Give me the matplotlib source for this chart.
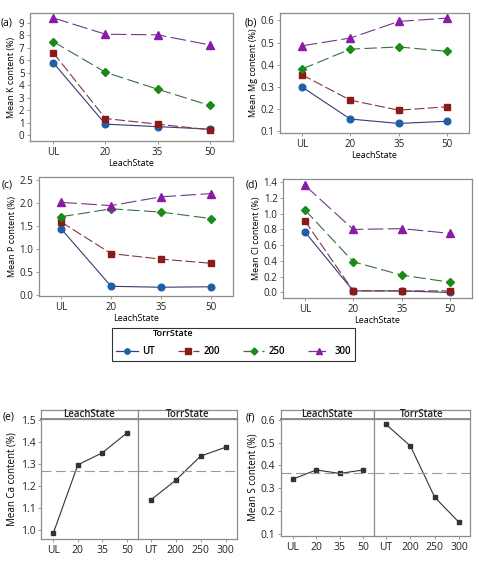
"""Main-effects / interaction plots: nutrient content vs LeachState and TorrState."""

import matplotlib

matplotlib.use("Agg")
import matplotlib.pyplot as plt
from matplotlib.lines import Line2D
import numpy as np

plt.rcParams["font.family"] = ["Open Sans", "DejaVu Sans"]

leach = ["UL", "20", "35", "50"]
torr = ["UT", "200", "250", "300"]

# interaction means, rows = TorrState, columns = LeachState
k_ut = [5.8, 0.9, 0.7, 0.5]
k_200 = [6.6, 1.35, 0.9, 0.45]
k_250 = [7.5, 5.05, 3.7, 2.4]
k_300 = [9.4, 8.1, 8.05, 7.25]

mg_ut = [0.30, 0.155, 0.135, 0.145]
mg_200 = [0.355, 0.24, 0.195, 0.21]
mg_250 = [0.38, 0.47, 0.48, 0.46]
mg_300 = [0.485, 0.52, 0.595, 0.61]

p_ut = [1.43, 0.19, 0.17, 0.18]
p_200 = [1.58, 0.90, 0.78, 0.69]
p_250 = [1.70, 1.87, 1.80, 1.66]
p_300 = [2.01, 1.94, 2.13, 2.20]

cl_ut = [0.77, 0.02, 0.02, 0.0]
cl_200 = [0.91, 0.02, 0.02, 0.02]
cl_250 = [1.05, 0.39, 0.22, 0.13]
cl_300 = [1.36, 0.80, 0.81, 0.75]

# main effects
ca_leach = [0.985, 1.295, 1.35, 1.44]
ca_torr = [1.135, 1.225, 1.335, 1.375]
s_leach = [0.34, 0.38, 0.365, 0.38]
s_torr = [0.58, 0.485, 0.26, 0.15]

W, H = 479, 566
FRAME = "#8c8c8c"

styles = [
    dict(color="#3a3a78", mfc="#1f5fa8", mec="#1f5fa8", marker="o", ms=4.8, ls="-"),
    dict(color="#7a3848", mfc="#8b1a1a", mec="#8b1a1a", marker="s", ms=4.6, ls=(0, (9, 3))),
    dict(color="#3a6e3a", mfc="#1a8a1a", mec="#1a8a1a", marker="D", ms=4.4, ls=(0, (11, 4))),
    dict(color="#6e3a84", mfc="#8b1aa8", mec="#8b1aa8", marker="^", ms=6.2, ls=(0, (14, 4))),
]


def box(l, t, r, b):
    return [l / W, 1 - b / H, (r - l) / W, (b - t) / H]


def style_frame(ax, size=7):
    for s in ax.spines.values():
        s.set_color(FRAME)
        s.set_linewidth(0.9)
    ax.tick_params(colors=FRAME, labelcolor="#222222", labelsize=size, length=2.5, width=0.6, pad=1.5)


def interaction(rect, series, ylabel, ylim, yticks, fmt, tag, tagpos):
    ax = fig.add_axes(box(*rect))
    x = np.arange(len(leach))
    for ys, st in zip(series, styles):
        ax.plot(x, ys, lw=0.8, **st)
    ax.set_xlim(-0.45, 3.45)
    ax.set_ylim(*ylim)
    ax.set_yticks(yticks)
    ax.set_yticklabels([fmt.format(v) for v in yticks])
    ax.set_xticks(x)
    ax.set_xticklabels(leach)
    ax.set_xlabel("LeachState", fontsize=6.5, labelpad=1)
    ax.set_ylabel(ylabel, fontsize=6.5, labelpad=2)
    style_frame(ax)
    fig.text(tagpos[0] / W, 1 - tagpos[1] / H, tag, fontsize=7.5, va="center")
    return ax


def main_effects(rect, divider, left_vals, right_vals, ylabel, ylim, yticks, tag, tagpos):
    l, t, r, b = rect
    strip_h = 9
    grand = np.mean(left_vals + right_vals)
    for (x0, x1), vals, cats, name in [((l, divider), left_vals, leach, "LeachState"),
                                       ((divider, r), right_vals, torr, "TorrState")]:
        ax = fig.add_axes(box(x0, t + strip_h, x1, b))
        xs = np.arange(len(cats))
        ax.plot(xs, vals, color="#333333", lw=0.8, marker="s", ms=2.4)
        ax.axhline(grand, color="#9a9a9a", lw=0.8, ls=(0, (9, 4)))
        ax.set_xlim(-0.5, 3.45)
        ax.set_ylim(*ylim)
        ax.set_xticks(xs)
        ax.set_xticklabels(cats)
        ax.set_yticks(yticks)
        style_frame(ax, size=7.5)
        if name == "LeachState":
            ax.set_yticklabels([f"{v:.1f}" for v in yticks])
            ax.set_ylabel(ylabel, fontsize=7, labelpad=2)
            ax.spines["right"].set_visible(False)
        else:
            ax.tick_params(axis="y", left=False, labelleft=False)
        sx = fig.add_axes(box(x0, t, x1, t + strip_h))
        sx.set_xticks([])
        sx.set_yticks([])
        for s in sx.spines.values():
            s.set_color(FRAME)
            s.set_linewidth(0.9)
        sx.spines["bottom"].set_linewidth(1.4)
        sx.text(0.5, 0.45, name, ha="center", va="center", fontsize=7, fontweight="semibold",
                color="#222222")
    fig.text(tagpos[0] / W, 1 - tagpos[1] / H, tag, fontsize=7.5, va="center")


fig = plt.figure(figsize=(W / 100, H / 100), dpi=100)

interaction((30, 13, 233, 141), [k_ut, k_200, k_250, k_300], "Mean K content (%)",
            (-0.45, 9.8), list(range(10)), "{:.0f}", "(a)", (1, 23))
interaction((280, 13, 469, 133), [mg_ut, mg_200, mg_250, mg_300], "Mean Mg content (%)",
            (0.092, 0.633), [0.1, 0.2, 0.3, 0.4, 0.5, 0.6], "{:.1f}", "(b)", (245, 23))
interaction((39, 177, 233, 296), [p_ut, p_200, p_250, p_300], "Mean P content (%)",
            (-0.02, 2.56), [0.0, 0.5, 1.0, 1.5, 2.0, 2.5], "{:.1f}", "(c)", (2, 185))
interaction((283, 179, 472, 298), [cl_ut, cl_200, cl_250, cl_300], "Mean Cl content (%)",
            (-0.07, 1.44), [0.0, 0.2, 0.4, 0.6, 0.8, 1.0, 1.2, 1.4], "{:.1f}", "(d)", (246, 185))

handles = [Line2D([], [], lw=0.9, **{**st, "ms": st["ms"] * 0.8}) for st in styles]
leg = fig.legend(handles, torr, title=" ", ncol=4, loc="center",
                 bbox_to_anchor=(233.5 / W, 1 - 344.5 / H), frameon=True, fancybox=False,
                 edgecolor="black", title_fontsize=6.5, handlelength=2.2,
                 columnspacing=2.3, handletextpad=0.5, borderpad=0.4, borderaxespad=0,
                 prop={"size": 7, "weight": "semibold"})
leg.get_frame().set_linewidth(0.8)
fig.text(153 / W, 1 - 334 / H, "TorrState", fontsize=6.5, fontweight="semibold", va="center",
         zorder=10)

main_effects((41, 410, 237, 539), 138, ca_leach, ca_torr, "Mean Ca content (%)",
             (0.959, 1.503), [1.0, 1.1, 1.2, 1.3, 1.4, 1.5], "(e)", (3, 417))
main_effects((281, 410, 470, 536), 374, s_leach, s_torr, "Mean S content (%)",
             (0.09, 0.604), [0.1, 0.2, 0.3, 0.4, 0.5, 0.6], "(f)", (246, 418))

fig.savefig("out.png", dpi=100)
